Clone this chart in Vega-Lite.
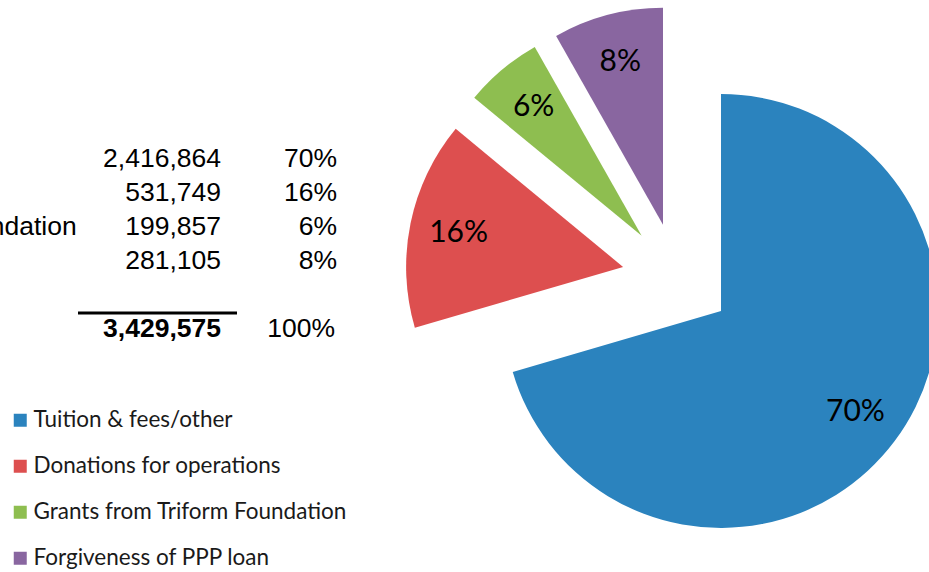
{
  "$schema": "https://vega.github.io/schema/vega-lite/v6.json",
  "padding": 0,
  "spacing": 0,
  "background": "white",
  "config": {"view": {"stroke": null}, "concat": {"spacing": 0}},
  "datasets": {
    "sources": [
      {"category": "Tuition & fees/other", "amount": 2416864, "pct": "70%", "rank": 1},
      {"category": "Donations for operations", "amount": 531749, "pct": "16%", "rank": 2},
      {"category": "Grants from Triform Foundation", "amount": 199857, "pct": "6%", "rank": 3},
      {"category": "Forgiveness of PPP loan", "amount": 281105, "pct": "8%", "rank": 4}
    ],
    "total": [
      {"category": "Total", "amount": 3429575, "pct": "100%"}
    ]
  },
  "hconcat": [
    {
      "width": 400,
      "height": 556,
      "encoding": {
        "y": {
          "field": "category",
          "type": "nominal",
          "axis": null,
          "scale": {
            "type": "point",
            "padding": 0,
            "domain": ["Tuition & fees/other", "Donations for operations", "Grants from Triform Foundation", "Forgiveness of PPP loan", "spacer", "Total"],
            "range": [167, 337]
          }
        }
      },
      "layer": [
        {
          "data": {"name": "sources"},
          "mark": {"type": "text", "align": "left", "baseline": "alphabetic", "font": "Liberation Sans", "fontSize": 26.5, "color": "#000000", "clip": true},
          "encoding": {"x": {"value": -293}, "text": {"field": "category"}}
        },
        {
          "data": {"name": "sources"},
          "mark": {"type": "text", "align": "right", "baseline": "alphabetic", "font": "Liberation Sans", "fontSize": 26.5, "color": "#000000"},
          "encoding": {"x": {"value": 221}, "text": {"field": "amount", "type": "quantitative", "format": ","}}
        },
        {
          "data": {"name": "sources"},
          "mark": {"type": "text", "align": "right", "baseline": "alphabetic", "font": "Liberation Sans", "fontSize": 26.5, "color": "#000000"},
          "encoding": {"x": {"value": 337}, "text": {"field": "pct"}}
        },
        {
          "data": {"name": "total"},
          "mark": {"type": "text", "align": "left", "baseline": "alphabetic", "font": "Liberation Sans", "fontSize": 26.5, "color": "#000000", "clip": true},
          "encoding": {"x": {"value": -293}, "text": {"field": "category"}}
        },
        {
          "data": {"name": "total"},
          "mark": {"type": "text", "align": "right", "baseline": "alphabetic", "font": "Liberation Sans", "fontSize": 26.5, "fontWeight": "bold", "color": "#000000"},
          "encoding": {"x": {"value": 221}, "text": {"field": "amount", "type": "quantitative", "format": ","}}
        },
        {
          "data": {"name": "total"},
          "mark": {"type": "text", "align": "right", "baseline": "alphabetic", "font": "Liberation Sans", "fontSize": 26.5, "color": "#000000"},
          "encoding": {"x": {"value": 335}, "text": {"field": "pct"}}
        },
        {
          "data": {"name": "total"},
          "mark": {"type": "rule", "color": "#000000", "strokeWidth": 3, "yOffset": -24},
          "encoding": {"x": {"value": 78}, "x2": {"value": 237}}
        }
      ]
    },
    {
      "width": 554,
      "height": 556,
      "data": {"name": "sources"},
      "encoding": {
        "theta": {"field": "amount", "type": "quantitative", "stack": "normalize"},
        "order": {"field": "rank", "type": "quantitative"}
      },
      "layer": [
        {
          "mark": {
            "type": "arc",
            "outerRadius": 217,
            "xOffset": {"expr": "55*sin(PI*(datum.amount_start+datum.amount_end))"},
            "yOffset": {"expr": "-55*cos(PI*(datum.amount_start+datum.amount_end))"}
          },
          "encoding": {
            "color": {
              "field": "category",
              "type": "nominal",
              "scale": {
                "domain": ["Tuition & fees/other", "Donations for operations", "Grants from Triform Foundation", "Forgiveness of PPP loan"],
                "range": ["#2B83BE", "#DD4F4F", "#8EBE50", "#8966A0"]
              },
              "legend": {
                "orient": "none",
                "legendX": 9,
                "legendY": 409,
                "title": null,
                "padding": 0,
                "symbolType": "square",
                "symbolSize": 169,
                "symbolStrokeWidth": 0,
                "labelFont": "Lato",
                "labelFontSize": 22.5,
                "labelColor": "#1a1a1a",
                "labelOffset": 2,
                "labelLimit": 400,
                "rowPadding": 23
              }
            }
          }
        },
        {
          "mark": {
            "type": "text",
            "radius": 168,
            "font": "Lato",
            "fontSize": 30,
            "color": "#000000",
            "xOffset": {"expr": "55*sin(PI*(datum.amount_start+datum.amount_end))"},
            "yOffset": {"expr": "-55*cos(PI*(datum.amount_start+datum.amount_end))"}
          },
          "encoding": {"text": {"field": "pct"}}
        }
      ]
    }
  ]
}
